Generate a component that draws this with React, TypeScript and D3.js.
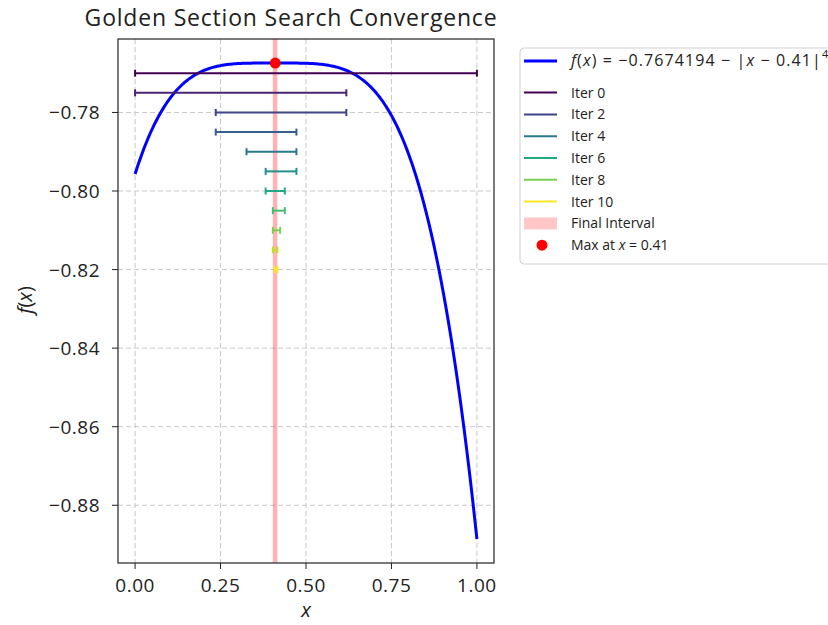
import React from "react";
import { scaleLinear, line, interpolateViridis, format, range } from "d3";

// golden section iterations: interval [lo, hi] drawn at a fixed height
const iterLo = [0, 0, 0.236, 0.236, 0.326, 0.382, 0.382, 0.403, 0.403, 0.403, 0.408];
const iterHi = [1, 0.618, 0.618, 0.472, 0.472, 0.472, 0.438, 0.438, 0.4243, 0.4161, 0.4161];
const iterY = [-0.77, -0.775, -0.78, -0.785, -0.79, -0.795, -0.8, -0.805, -0.81, -0.815, -0.82];
const legendIters = [0, 2, 4, 6, 8, 10];

const finalInterval = [0.403, 0.4161];
const peakX = 0.41;
const peakY = -0.7674194;

const xTicks = [0, 0.25, 0.5, 0.75, 1];
const yTicks = [-0.78, -0.8, -0.82, -0.84, -0.86, -0.88];

// the plotted function, as given in the legend
const f = (x: number) => peakY - Math.pow(Math.abs(x - peakX), 4);
const curveX = range(0, 1.0001, 0.005);

const W = 828;
const H = 625;
const left = 118;
const right = 494;
const top = 39;
const bottom = 563;

const font = "'Open Sans', 'DejaVu Sans', sans-serif";

const App = () => {
  const x = scaleLinear().domain([-0.05, 1.05]).range([left, right]);
  const y = scaleLinear().domain([-0.8947, -0.7613]).range([bottom, top]);
  const fmt = (v: number) => format(".2f")(v).replace("-", "\u2212");

  const curve = line<number>()
    .x(d => x(d))
    .y(d => y(f(d)));

  const color = (i: number) => interpolateViridis(i / 10);

  const legX = 520;
  const legY = 48;
  const rowH = 21.8;
  const row = (k: number) => legY + 13 + k * rowH;

  return (
    <svg
      width={W}
      height={H}
      style={{ position: "absolute", left: 0, top: 0, background: "#fff" }}
      fontFamily={font}
    >
      <defs>
        <clipPath id="plot">
          <rect x={left} y={top} width={right - left} height={bottom - top} />
        </clipPath>
      </defs>

      {/* grid */}
      {xTicks.map(t => (
        <line key={"gx" + t} x1={x(t)} x2={x(t)} y1={top} y2={bottom}
          stroke="#c8c8c8" strokeDasharray="5,3" strokeWidth={1} />
      ))}
      {yTicks.map(t => (
        <line key={"gy" + t} x1={left} x2={right} y1={y(t)} y2={y(t)}
          stroke="#c8c8c8" strokeDasharray="5,3" strokeWidth={1} />
      ))}

      <g clipPath="url(#plot)">
        {/* final interval */}
        <rect x={x(finalInterval[0])} y={top}
          width={x(finalInterval[1]) - x(finalInterval[0])} height={bottom - top}
          fill="#ff0000" opacity={0.3} />

        <path d={curve(curveX) || ""} fill="none" stroke="#0000ff" strokeWidth={3} />

        {iterLo.map((lo, i) => {
          const yy = y(iterY[i]);
          const c = color(i);
          return (
            <g key={"it" + i} stroke={c} strokeWidth={2}>
              <line x1={x(lo)} x2={x(iterHi[i])} y1={yy} y2={yy} />
              <line x1={x(lo)} x2={x(lo)} y1={yy - 3.5} y2={yy + 3.5} />
              <line x1={x(iterHi[i])} x2={x(iterHi[i])} y1={yy - 3.5} y2={yy + 3.5} />
            </g>
          );
        })}

        <circle cx={x(peakX)} cy={y(peakY)} r={5.5} fill="#ff0000" />
      </g>

      {/* frame */}
      <rect x={left} y={top} width={right - left} height={bottom - top}
        fill="none" stroke="#222" strokeWidth={1.2} />

      {/* x axis */}
      {xTicks.map(t => (
        <g key={"tx" + t}>
          <line x1={x(t)} x2={x(t)} y1={bottom} y2={bottom + 6} stroke="#222" />
          <text x={x(t)} y={592} textAnchor="middle" fontSize={19} letterSpacing={0.5} fill="#222">
            {fmt(t)}
          </text>
        </g>
      ))}
      <text x={(left + right) / 2} y={617} textAnchor="middle" fontSize={20}
        fontStyle="italic" fill="#222">x</text>

      {/* y axis */}
      {yTicks.map(t => (
        <g key={"ty" + t}>
          <line x1={left - 6} x2={left} y1={y(t)} y2={y(t)} stroke="#222" />
          <text x={left - 18} y={y(t) + 7} textAnchor="end" fontSize={19} letterSpacing={0.5} fill="#222">
            {fmt(t)}
          </text>
        </g>
      ))}
      <text transform={`translate(32,${300}) rotate(-90)`}
        textAnchor="middle" fontSize={20} fill="#222">
        <tspan fontStyle="italic">f</tspan>(<tspan fontStyle="italic">x</tspan>)
      </text>

      {/* title */}
      <text x={291} y={26} textAnchor="middle" fontSize={23} letterSpacing={0.8} fill="#222">
        Golden Section Search Convergence
      </text>

      {/* legend */}
      <rect x={legX} y={legY} width={330} height={216} rx={4}
        fill="#fff" stroke="#d0d0d0" strokeWidth={1} />
      <g fontSize={14} fill="#222">
        <line x1={legX + 4} x2={legX + 37} y1={row(0)} y2={row(0)} stroke="#0000ff" strokeWidth={3} />
        <text x={legX + 51} y={row(0) + 5} fontSize={16} letterSpacing={1.1}>
          <tspan fontStyle="italic">f</tspan>(<tspan fontStyle="italic">x</tspan>) = {"\u2212"}0.7674194 {"\u2212"} |<tspan fontStyle="italic">x</tspan> {"\u2212"} 0.41|
          <tspan dy={-8} fontSize={11}>4</tspan>
        </text>
        {legendIters.map((it, k) => (
          <g key={"li" + it}>
            <line x1={legX + 4} x2={legX + 37} y1={row(k + 1.45)} y2={row(k + 1.45)}
              stroke={color(it)} strokeWidth={2} />
            <text x={legX + 51} y={row(k + 1.45) + 5}>Iter {it}</text>
          </g>
        ))}
        <rect x={legX + 4} y={row(7.45) - 6} width={33} height={12} fill="#ff0000" opacity={0.22} />
        <text x={legX + 51} y={row(7.45) + 5}>Final Interval</text>
        <circle cx={legX + 22} cy={row(8.45)} r={5.5} fill="#ff0000" />
        <text x={legX + 51} y={row(8.45) + 5}>
          Max at <tspan fontStyle="italic">x</tspan> = 0.41
        </text>
      </g>
    </svg>
  );
};

export default App;
